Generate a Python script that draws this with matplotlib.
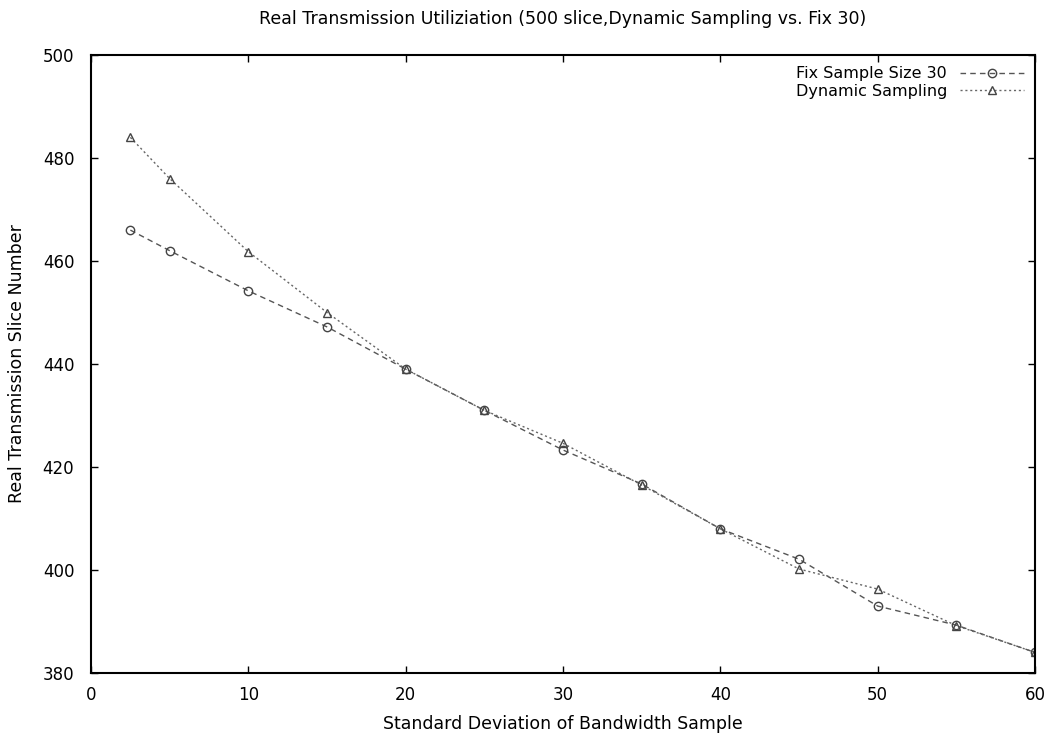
import numpy as np
import matplotlib
matplotlib.use('Agg')
import matplotlib.pyplot as plt

plt.rcParams['font.family'] = ['DejaVu Sans']

# dados
desvio = [2.5, 5, 10, 15, 20, 25, 30, 35, 40, 45, 50, 55, 60]
fix_30 = [466, 462, 454.2, 447.2, 439, 431, 423.3, 416.7, 408, 402.1, 393, 389.3, 384]
dinamico = [484, 476, 461.8, 450, 439, 431, 424.6, 416.5, 408, 400.2, 396.3, 389.2, 384]

fig = plt.figure(figsize=(10.44, 7.4), dpi=100)
ax = fig.add_axes([0.0872, 0.0905, 0.9042, 0.8352])

ax.plot(desvio, fix_30, linestyle=(0, (4, 3)), color='#555555', linewidth=1,
        marker='o', markersize=6, markerfacecolor='none', markeredgecolor='#444444',
        markeredgewidth=1, label='Fix Sample Size 30')
ax.plot(desvio, dinamico, linestyle=(0, (1.5, 2)), color='#666666', linewidth=1,
        marker='^', markersize=6, markerfacecolor='none', markeredgecolor='#444444',
        markeredgewidth=1, label='Dynamic Sampling')

ax.set_xlim(0, 60)
ax.set_ylim(380, 500)
ax.set_xticks(np.arange(0, 61, 10))
ax.set_yticks(np.arange(380, 501, 20))
ax.tick_params(direction='in', top=True, right=True, labelsize=12, length=5, width=1)
ax.tick_params(axis='x', pad=9)
ax.tick_params(axis='y', pad=12)
for s in ax.spines.values():
    s.set_linewidth(1.5)

ax.set_title('Real Transmission Utiliziation (500 slice,Dynamic Sampling vs. Fix 30)',
             fontsize=12.5, pad=22)
ax.set_xlabel('Standard Deviation of Bandwidth Sample', fontsize=12.5, labelpad=8)
ax.set_ylabel('Real Transmission Slice Number', fontsize=12.5, labelpad=12)

# legenda no estilo gnuplot (texto antes da amostra)
leg = ax.legend(loc='upper right', frameon=False, fontsize=11.5, markerfirst=False,
                handlelength=4, borderaxespad=0.3, labelspacing=0.15)

fig.savefig('out.png', dpi=100)
